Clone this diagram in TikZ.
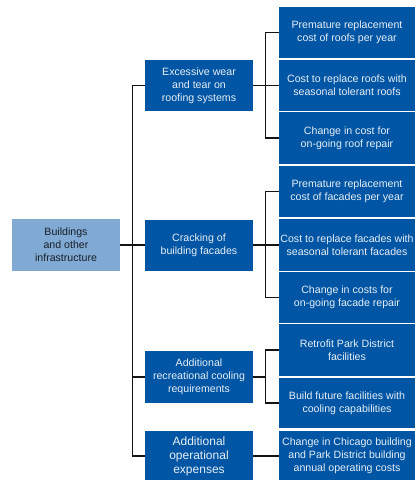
\documentclass[tikz,border=0pt]{standalone}
\usepackage{fontspec}
\setmainfont{Liberation Sans}
\definecolor{boxblue}{RGB}{0,86,164}
\definecolor{rootblue}{RGB}{128,170,212}
\definecolor{boxtext}{RGB}{232,238,246}
\definecolor{roottext}{RGB}{25,30,40}
\definecolor{linecol}{RGB}{20,20,20}
\tikzset{
  base/.style={inner sep=0pt, align=center, font=\fontsize{10.6}{13}\selectfont},
  rootbox/.style={base, fill=rootblue, text=roottext, minimum width=108pt, minimum height=52pt},
  midbox/.style={base, fill=boxblue, text=boxtext, minimum width=108pt, minimum height=51pt},
  bigmid/.style={midbox, font=\fontsize{12}{14}\selectfont},
  leafbox/.style={base, fill=boxblue, text=boxtext, minimum width=136pt, minimum height=51pt},
  conn/.style={draw=linecol, line width=1.1pt}
}
\begin{document}
\begin{tikzpicture}[x=1pt,y=-1pt]
\useasboundingbox (0,0) rectangle (415,480);
\fill[white] (0,0) rectangle (415,480);
% root
\node[rootbox] (root) at (66,245) {Buildings\\and other\\infrastructure};
% middle
\node[midbox] (m1) at (199,85.5) {Excessive wear\\and tear on\\roofing systems};
\node[midbox] (m2) at (199,245) {Cracking of\\building facades};
\node[midbox, minimum height=52pt] (m3) at (199,377) {Additional\\recreational cooling\\requirements};
\node[bigmid, minimum height=50pt] (m4) at (199,456) {Additional\\operational\\expenses};
% leaves
\node[leafbox] (r1) at (347,32.5) {Premature replacement\\cost of roofs per year};
\node[leafbox] (r2) at (347,85.5) {Cost to replace roofs with\\seasonal tolerant roofs};
\node[leafbox, minimum height=52pt] (r3) at (347,138) {Change in cost for\\on-going roof repair};
\node[leafbox] (r4) at (347,191.5) {Premature replacement\\cost of facades per year};
\node[leafbox, minimum height=52pt] (r5) at (347,245) {Cost to replace facades with\\seasonal tolerant facades};
\node[leafbox] (r6) at (347,297.5) {Change in costs for\\on-going facade repair};
\node[leafbox, minimum height=52pt] (r7) at (347,350) {Retrofit Park District\\facilities};
\node[leafbox, minimum height=50pt] (r8) at (347,403) {Build future facilities with\\cooling capabilities};
\node[leafbox, minimum height=50pt] (r9) at (347,456) {Change in Chicago building\\and Park District building\\annual operating costs};
% trunk
\draw[conn] (root) -- (m2);
\draw[conn] (m1.west) -- ++(-12,0) coordinate (t1) |- (m4.west);
\draw[conn] (m3.west) -- ++(-12,0);
% group 1
\draw[conn] (r1.west) -- ++(-13,0) coordinate (j1) |- (r3.west);
\draw[conn] (m1) -- (r2);
% group 2
\draw[conn] (r4.west) -- ++(-13,0) coordinate (j2) |- (r6.west);
\draw[conn] (m2) -- (r5);
% group 3
\draw[conn] (r7.west) -- ++(-13,0) coordinate (j3) |- (r8.west);
\draw[conn] (m3.east) -- ++(13,0);
% group 4
\draw[conn] (m4) -- (r9);
\end{tikzpicture}
\end{document}
